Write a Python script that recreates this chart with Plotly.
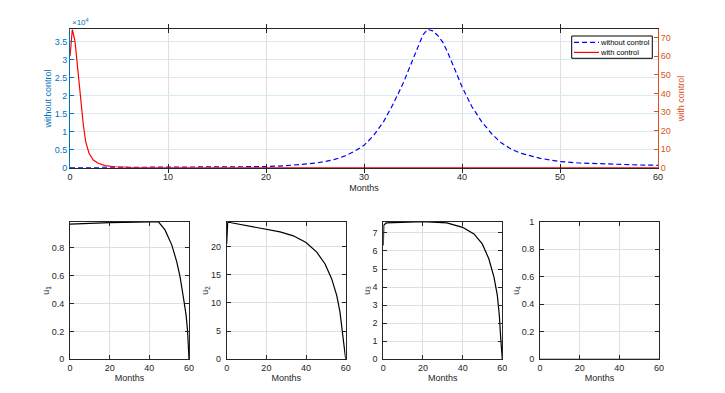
import plotly.graph_objects as go

# ---- data ----
months_without = [0, 5, 10, 15, 20, 22, 24, 25, 26, 27, 28, 29, 30, 31, 32, 33, 34, 34.5, 35,
                  35.5, 36, 36.5, 37, 37.5, 38, 38.5, 39, 39.5, 40, 41, 42, 43, 44, 45, 46, 48,
                  50, 52, 55, 58, 60]
without_control = [20, 40, 80, 150, 300, 550, 950, 1250, 1700, 2300, 3200, 4500, 6200, 9000,
                   12800, 17800, 23500, 26800, 30300, 33800, 36800, 38440, 38000, 36800, 35000,
                   32300, 29000, 25800, 22500, 17000, 12800, 9500, 6900, 5200, 4000, 2600,
                   1700, 1300, 940, 760, 670]

months_with = [0, 0.24, 0.51, 0.68, 0.85, 1.02, 1.19, 1.36, 1.6, 1.94, 2.38, 2.89, 3.57,
               4.6, 6, 10, 20, 30, 40, 50, 60]
with_control = [60, 74.5, 68, 59, 50, 39, 30, 23, 14, 7.8, 4.1, 2.4, 1.1, 0.5, 0.2, 0.05,
                0, 0, 0, 0, 0]

u1_t = [0, 20, 40, 44.5, 47.9, 51.3, 53.8, 55.5, 57.1, 58.5, 59.3, 60]
u1 = [0.968, 0.979, 0.984, 0.986, 0.927, 0.82, 0.70, 0.59, 0.45, 0.32, 0.20, 0]

u2_t = [0, 0.5, 1, 10, 20, 26.9, 33.6, 40, 45.4, 49.6, 52.9, 55.5, 57.1, 58.5, 59.3, 60]
u2 = [20.5, 24.2, 24.3, 23.7, 23.1, 22.6, 21.9, 20.7, 19.0, 16.9, 14.3, 11.3, 8.4, 4.9, 2.0, 0]

u3_t = [0, 0.25, 1.5, 10, 20, 32, 40, 45.7, 49.9, 53.2, 55.8, 57.5, 58.5, 59.2, 60]
u3 = [6.3, 7.44, 7.55, 7.59, 7.62, 7.55, 7.31, 6.94, 6.39, 5.57, 4.55, 3.54, 2.44, 1.16, 0]

u4_t = [0, 60]
u4 = [0, 0]

legend_labels = ["without control", "with control"]

W, H = 725, 393
FONT = "Liberation Sans, Arial, sans-serif"
DARK = "#262626"
GRID = "#dfdfdf"
BLUE_AX = "#0072BD"
ORANGE_AX = "#D95319"
LINE_BLUE = "#0000FF"
LINE_RED = "#FF0000"


def px_x(a, b):
    return [a / W, b / W]


def px_y(top, bottom):
    return [1 - bottom / H, 1 - top / H]


fig = go.Figure()

# top panel
fig.add_trace(go.Scatter(x=months_without, y=without_control, name=legend_labels[0],
                         mode="lines", line=dict(color=LINE_BLUE, width=1.2, dash="5px,3px"),
                         xaxis="x", yaxis="y"))
fig.add_trace(go.Scatter(x=months_with, y=with_control, name=legend_labels[1],
                         mode="lines", line=dict(color=LINE_RED, width=1.2),
                         xaxis="x", yaxis="y2"))

# bottom panels
bottom = [(u1_t, u1), (u2_t, u2), (u3_t, u3), (u4_t, u4)]
for i, (t, u) in enumerate(bottom):
    n = i + 3
    fig.add_trace(go.Scatter(x=t, y=u, mode="lines", showlegend=False,
                             line=dict(color="#000000", width=1.2),
                             xaxis=f"x{n}", yaxis=f"y{n}"))

tickfont = dict(family=FONT, size=9, color=DARK)
common_x = dict(range=[0, 60], showline=True, linecolor=DARK, linewidth=1, mirror="allticks",
                ticks="inside", ticklen=4, tickcolor=DARK, showgrid=True, gridcolor=GRID,
                zeroline=False, tickfont=tickfont, automargin=False)

layout = dict(
    width=W, height=H, margin=dict(l=0, r=0, t=0, b=0, autoexpand=False),
    paper_bgcolor="white", plot_bgcolor="white",
    font=dict(family=FONT, size=9, color=DARK),
    showlegend=False,
)

layout["xaxis"] = dict(common_x, domain=px_x(70, 658), anchor="y", tickvals=[0, 10, 20, 30, 40, 50, 60],
                       title=dict(text="Months", standoff=4, font=dict(family=FONT, size=9, color=DARK)))
layout["yaxis"] = dict(domain=px_y(29.3, 167.7), anchor="x", range=[0, 38440],
                       tickvals=[0, 5000, 10000, 15000, 20000, 25000, 30000, 35000],
                       ticktext=["0", "0.5", "1", "1.5", "2", "2.5", "3", "3.5"],
                       showline=True, linecolor=BLUE_AX, linewidth=1, mirror=False,
                       ticks="inside", ticklen=4, tickcolor=BLUE_AX,
                       showgrid=True, gridcolor="#d9eaf5", zeroline=False, automargin=False,
                       tickfont=dict(family=FONT, size=9, color=BLUE_AX),
                       title=dict(text="without control", standoff=1,
                                  font=dict(family=FONT, size=9, color=BLUE_AX)))
layout["yaxis2"] = dict(overlaying="y", side="right", anchor="x", range=[0, 74.5],
                        tickvals=[0, 10, 20, 30, 40, 50, 60, 70],
                        showline=True, linecolor=ORANGE_AX, linewidth=1,
                        ticks="inside", ticklen=4, tickcolor=ORANGE_AX,
                        showgrid=False, zeroline=False, automargin=False,
                        tickfont=dict(family=FONT, size=9, color=ORANGE_AX),
                        title=dict(text="with control", standoff=7,
                                   font=dict(family=FONT, size=9, color=ORANGE_AX)))

x_spans = [(70, 189), (226.7, 345.7), (383.3, 502.3), (540, 659)]
y_ranges = [[0, 0.986], [0, 24.4], [0, 7.62], [0, 1]]
y_ticks = [[0, 0.2, 0.4, 0.6, 0.8], [0, 5, 10, 15, 20], [0, 1, 2, 3, 4, 5, 6, 7],
           [0, 0.2, 0.4, 0.6, 0.8, 1]]
for i in range(4):
    n = i + 3
    layout[f"xaxis{n}"] = dict(common_x, domain=px_x(*x_spans[i]), anchor=f"y{n}",
                               tickvals=[0, 20, 40, 60],
                               title=dict(text="Months", standoff=2,
                                          font=dict(family=FONT, size=9, color=DARK)))
    layout[f"yaxis{n}"] = dict(domain=px_y(221.7, 359.3), anchor=f"x{n}", range=y_ranges[i],
                               tickvals=y_ticks[i], showline=True, linecolor=DARK, linewidth=1,
                               mirror="allticks", ticks="inside", ticklen=4, tickcolor=DARK,
                               showgrid=True, gridcolor=GRID, zeroline=False, tickfont=tickfont,
                               automargin=False, ticklabelstandoff=3,
                               title=dict(text=f"u<sub>{i + 1}</sub>", standoff=0,
                                          font=dict(family=FONT, size=9, color=DARK)))

fig.update_layout(**layout)

# exponent label of the left axis
fig.add_annotation(x=70 / W, y=1 - 29 / H, xref="paper", yref="paper",
                   xanchor="left", yanchor="bottom", showarrow=False,
                   text="×10<sup>4</sup>", font=dict(family=FONT, size=8, color=BLUE_AX))

# compact MATLAB-style legend box (plotly's own legend rows are too tall)
box = dict(x0=571.7, x1=652.3, y0=36, y1=58.3)
fig.add_shape(type="rect", xref="paper", yref="paper",
              x0=box["x0"] / W, x1=box["x1"] / W, y0=1 - box["y1"] / H, y1=1 - box["y0"] / H,
              line=dict(color="#000000", width=1), fillcolor="white", layer="above")
rows = [(42.3, LINE_BLUE, "5px,3px"), (52.4, LINE_RED, "solid")]
for (ry, col, dash), label in zip(rows, legend_labels):
    fig.add_shape(type="line", xref="paper", yref="paper",
                  x0=574 / W, x1=599 / W, y0=1 - ry / H, y1=1 - ry / H,
                  line=dict(color=col, width=1.2, dash=dash), layer="above")
    fig.add_annotation(x=599 / W, y=1 - ry / H, xref="paper", yref="paper",
                       xanchor="left", yanchor="middle", showarrow=False, borderpad=0,
                       text=label, font=dict(family=FONT, size=7.5, color="#000000"))

fig.write_html("out.html", config={"displayModeBar": False},
               post_script="document.body.style.margin='0';")
